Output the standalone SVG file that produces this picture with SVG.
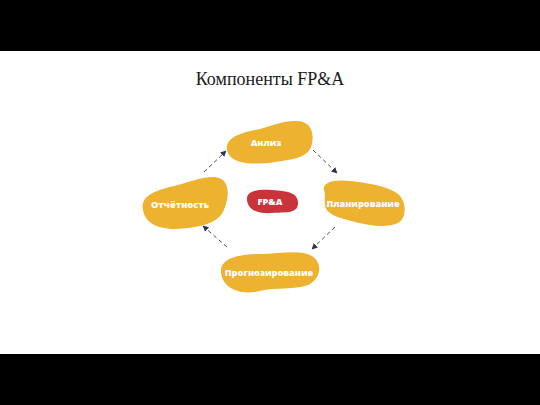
<svg xmlns="http://www.w3.org/2000/svg" width="540" height="405" viewBox="0 0 540 405">
<style>
.blob{fill:#EDB22F}
.core{fill:#C9343A}
.lbl{font-family:"Open Sans","Liberation Sans",sans-serif;font-weight:800;font-size:9.2px;fill:#fff;text-anchor:middle;dominant-baseline:central}
.conn{stroke:#4a4f6a;stroke-width:1;stroke-dasharray:4 3;fill:none;marker-end:url(#ah)}
.bar{fill:#000}
</style>
<defs>
<marker id="ah" viewBox="0 0 10 10" refX="9" refY="5" markerWidth="6" markerHeight="6" orient="auto" markerUnits="userSpaceOnUse">
<path d="M0,0 L10,5 L0,10 Z" fill="#2f3452"/>
</marker>
</defs>
<rect width="540" height="405" fill="#fff"/>
<rect class="bar" x="0" y="0" width="540" height="51"/>
<rect class="bar" x="0" y="354" width="540" height="51"/>
<text x="270" y="85" font-family="'Liberation Serif',serif" font-size="18" fill="#1a1a1a" text-anchor="middle">Компоненты FP&amp;A</text>
<g id="connectors">
<line class="conn" x1="204" y1="172" x2="226" y2="151"/>
<line class="conn" x1="313" y1="150" x2="337" y2="173"/>
<line class="conn" x1="335" y1="227" x2="312" y2="249"/>
<line class="conn" x1="227" y1="247" x2="203" y2="226"/>
</g>
<g id="node-analysis">
<path class="blob" d="M227,150 C225,138 240,133 255,130 C270,127 282,120 298,121 C312,122 315,135 311,147 C307,158 290,160 275,162 C255,165 230,165 227,150 Z"/>
<text class="lbl" x="266" y="142">Анлиз</text>
</g>
<g id="node-reporting">
<path class="blob" d="M143,210 C140,194 158,190 178,185 C196,180 208,175 219,178 C231,182 229,200 223,212 C216,225 195,228 175,229 C158,229 145,223 143,210 Z"/>
<text class="lbl" x="180" y="204">Отчётность</text>
</g>
<g id="node-planning">
<path class="blob" d="M324,190 C322,182 335,179 350,181 C368,183 388,186 398,194 C407,202 407,218 398,223 C388,228 370,226 355,222 C340,218 326,215 325,205 C324,198 326,196 324,190 Z"/>
<text class="lbl" x="363" y="203">Планирование</text>
</g>
<g id="node-forecasting">
<path class="blob" d="M221,272 C220,258 240,254 260,254 C280,254 300,249 312,256 C324,264 320,280 308,285 C295,290 275,287 260,291 C240,296 222,288 221,272 Z"/>
<text class="lbl" x="269" y="272">Прогнозирование</text>
</g>
<g id="node-fpa">
<path class="core" d="M247,200 C246,190 260,189 272,190 C288,191 299,193 298,204 C297,214 285,212 272,213 C258,214 248,210 247,200 Z"/>
<text class="lbl" x="270" y="201">FP&amp;A</text>
</g>
</svg>
